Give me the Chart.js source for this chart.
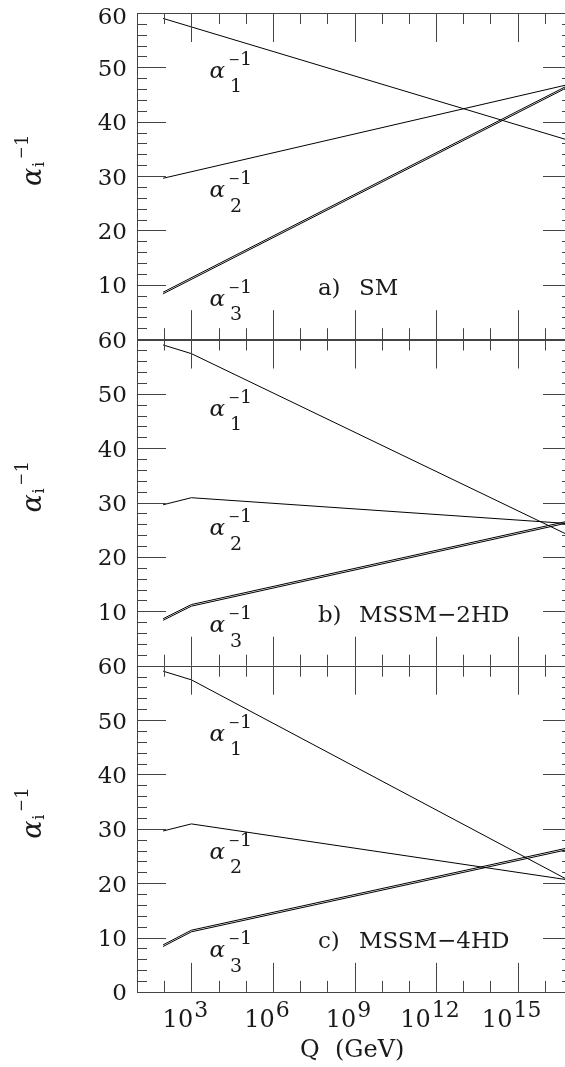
<!DOCTYPE html>
<html>
<head>
<meta charset="utf-8">
<script src="https://cdn.jsdelivr.net/npm/chart.js@4.4.1/dist/chart.umd.min.js"></script>
<style>
  html, body { margin: 0; padding: 0; background: #fff; overflow: hidden; }
  #wrap { position: relative; width: 565px; height: 1067px; overflow: hidden; }
  #wrap canvas { position: absolute; left: 0; top: 0; }
</style>
</head>
<body>
<div id="wrap">
  <canvas id="pa" width="580" height="1067"></canvas>
  <canvas id="pb" width="580" height="1067"></canvas>
  <canvas id="pc" width="580" height="1067"></canvas>
</div>
<script>
// Q in GeV: start at M_Z, SUSY threshold at 1 TeV, end at 10^17
const qSM = [91.2, 1e17];
const qSusy = [91.2, 1e3, 1e17];

// a) SM
const smInv1 = [59.0, 36.4];
const smInv2 = [29.6, 47.0];
const smInv3Hi = [8.65, 47.05];
const smInv3Lo = [8.35, 46.75];

// b) MSSM-2HD
const hd2Inv1 = [59.0, 57.4, 23.7];
const hd2Inv2 = [29.6, 30.9, 26.1];
const hd2Inv3Hi = [8.65, 11.25, 26.75];
const hd2Inv3Lo = [8.35, 10.95, 26.45];

// c) MSSM-4HD
const hd4Inv1 = [59.0, 57.4, 20.2];
const hd4Inv2 = [29.6, 30.9, 20.5];
const hd4Inv3Hi = [8.65, 11.35, 26.65];
const hd4Inv3Lo = [8.35, 11.05, 26.35];

const panelTags = ['a)', 'b)', 'c)'];
const panelNames = ['SM', 'MSSM\u22122HD', 'MSSM\u22124HD'];
const yTicks = [0, 10, 20, 30, 40, 50, 60];
const xMajorExp = [3, 6, 9, 12, 15];

// where the alpha_i^-1 labels sit, in data units
const labelQ = 5e3;
const labelInv = [[49.1, 27.1, 7.2], [47.0, 25.0, 7.2], [47.2, 25.5, 7.4]];
const tagQ = 4.5e7, tagInv = 8.1;

// layout of the stacked panels (pixels)
const PANEL_TOP = [13, 339.5, 665.7];
const PANEL_H = 326.2;
const FONT = '"DejaVu Serif", serif';
const INK = '#1a1a1a';
const AXIS = '#444';

function line(qs, vals) {
  return {
    data: qs.map((q, i) => ({ x: q, y: vals[i] })),
    borderColor: '#000', borderWidth: 1, pointRadius: 0, fill: false, tension: 0
  };
}

function alphaLabel(ctx, x, yc, sub) {
  ctx.textAlign = 'left';
  ctx.textBaseline = 'alphabetic';
  ctx.font = 'italic 23px ' + FONT;
  ctx.fillText('\u03b1', x - 1, yc + 5.5);
  ctx.font = '19px ' + FONT;
  ctx.fillText(sub, x + 19.5, yc + 20);
  ctx.fillText('1', x + 29.5, yc - 7.5);
  ctx.font = '14px ' + FONT;
  ctx.fillText('\u2212', x + 18, yc - 8.5);
}

function decor(idx) {
  return {
    id: 'decor' + idx,
    afterDatasetsDraw(chart) {
      const { ctx, chartArea: a } = chart;
      const x = chart.scales.x, y = chart.scales.y;
      const px = v => Math.round(v) + 0.5;
      ctx.save();

      // frame and inward ticks
      ctx.strokeStyle = AXIS;
      ctx.lineWidth = 1;
      ctx.strokeRect(px(a.left), px(a.top), Math.round(a.right) - Math.round(a.left), Math.round(a.bottom) - Math.round(a.top));
      ctx.beginPath();
      for (let v = 0; v <= 60; v += 2) {
        const yy = px(y.getPixelForValue(v));
        const len = v % 10 === 0 ? 29 : 10;
        ctx.moveTo(a.left, yy); ctx.lineTo(a.left + len, yy);
        ctx.moveTo(a.right, yy); ctx.lineTo(a.right - len, yy);
      }
      for (let e = 2; e <= 16; e++) {
        const xx = px(x.getPixelForValue(Math.pow(10, e)));
        const len = e % 3 === 0 ? 29 : 11;
        ctx.moveTo(xx, a.top); ctx.lineTo(xx, a.top + len);
        ctx.moveTo(xx, a.bottom); ctx.lineTo(xx, a.bottom - len);
      }
      ctx.stroke();

      ctx.fillStyle = INK;

      // y tick labels
      ctx.font = '23px ' + FONT;
      ctx.textAlign = 'right';
      ctx.textBaseline = 'alphabetic';
      yTicks.forEach(v => {
        if (v === 0 && idx !== 2) return;
        const shift = (v === 60 && idx === 0) ? 2 : 0;
        ctx.fillText(String(v), 127, y.getPixelForValue(v) + 8.5 + shift);
      });

      // alpha labels inside the panel
      const lx = x.getPixelForValue(labelQ);
      labelInv[idx].forEach((v, k) => alphaLabel(ctx, lx, y.getPixelForValue(v), String(k + 1)));

      // panel tag
      ctx.font = '23px ' + FONT;
      ctx.textAlign = 'left';
      const tx = x.getPixelForValue(tagQ), ty = y.getPixelForValue(tagInv);
      ctx.fillText(panelTags[idx], tx, ty);
      ctx.fillText(panelNames[idx], tx + 41, ty);

      // rotated y title  alpha_i^-1
      ctx.save();
      ctx.translate(41, a.top + 173);
      ctx.rotate(-Math.PI / 2);
      ctx.textAlign = 'left';
      ctx.font = 'italic 27px ' + FONT;
      ctx.fillText('\u03b1', 0, 0);
      ctx.font = '16px ' + FONT;
      ctx.fillText('i', 19, 3);
      ctx.font = '15px ' + FONT;
      ctx.fillText('\u2212', 27, -15);
      ctx.font = '18px ' + FONT;
      ctx.fillText('1', 40, -13);
      ctx.restore();

      // bottom axis labels only on the last panel
      if (idx === 2) {
        xMajorExp.forEach(e => {
          const cx = x.getPixelForValue(Math.pow(10, e));
          ctx.font = '24px ' + FONT;
          const w1 = ctx.measureText('10').width;
          ctx.font = '22px ' + FONT;
          const w2 = ctx.measureText(String(e)).width;
          const start = cx - (w1 + w2 + 1) / 2 - 6;
          ctx.textAlign = 'left';
          ctx.font = '24px ' + FONT;
          ctx.fillText('10', start, a.bottom + 35);
          ctx.font = '22px ' + FONT;
          ctx.fillText(String(e), start + w1 + 1, a.bottom + 25);
        });
        ctx.font = '24px ' + FONT;
        ctx.textAlign = 'left';
        ctx.fillText('Q  (GeV)', 300, a.bottom + 65);
      }
      ctx.restore();
    }
  };
}

function makePanel(id, idx, datasets) {
  const top = PANEL_TOP[idx];
  return new Chart(document.getElementById(id), {
    type: 'line',
    data: { datasets },
    options: {
      responsive: false,
      animation: false,
      devicePixelRatio: 1,
      layout: { padding: { left: 137, right: 8, top: top, bottom: 1067 - top - PANEL_H } },
      scales: {
        x: { type: 'logarithmic', min: 10, max: 1e17, display: false },
        y: { type: 'linear', min: 0, max: 60, display: false }
      },
      plugins: { legend: { display: false }, tooltip: { enabled: false } }
    },
    plugins: [decor(idx)]
  });
}

makePanel('pa', 0, [
  line(qSM, smInv1), line(qSM, smInv2), line(qSM, smInv3Hi), line(qSM, smInv3Lo)
]);
makePanel('pb', 1, [
  line(qSusy, hd2Inv1), line(qSusy, hd2Inv2), line(qSusy, hd2Inv3Hi), line(qSusy, hd2Inv3Lo)
]);
makePanel('pc', 2, [
  line(qSusy, hd4Inv1), line(qSusy, hd4Inv2), line(qSusy, hd4Inv3Hi), line(qSusy, hd4Inv3Lo)
]);
</script>
</body>
</html>
